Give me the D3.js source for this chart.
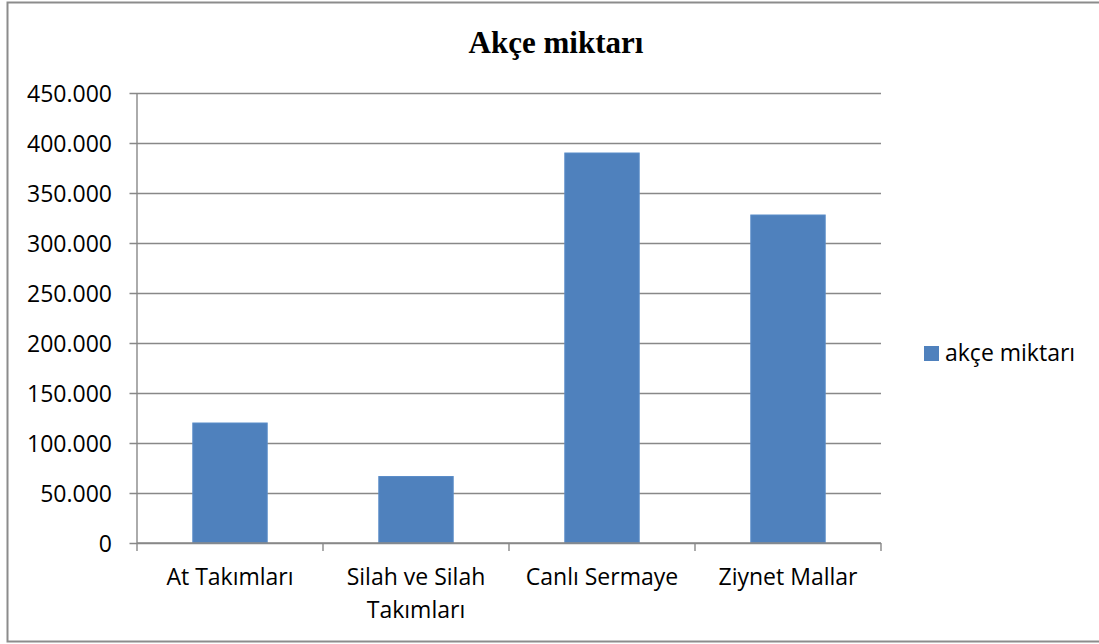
<!DOCTYPE html>
<html lang="tr">
<head>
    <meta charset="UTF-8">
    <title>Akçe miktarı</title>
    <script src="https://d3js.org/d3.v7.min.js"></script>
    <style>
        body { margin: 0; background: #fff; }
        svg { display: block; }
        .lbl { font-family: "Open Sans", sans-serif; font-size: 23px; fill: #000; }
    </style>
</head>
<body>
    <div id="chart"></div>

	<script>
        // data
        const categories = ["At Takımları", "Silah ve Silah Takımları", "Canlı Sermaye", "Ziynet Mallar"];
        const values = [120000, 66500, 390000, 328000];
        const yTicks = [0, 50000, 100000, 150000, 200000, 250000, 300000, 350000, 400000, 450000];
        const seriesName = "akçe miktarı";
        const chartTitle = "Akçe miktarı";

        const width = 1099;
        const height = 644;
        const margin = { top: 93, right: 218, bottom: 101, left: 137 };

        const locale = d3.formatLocale({ decimal: ",", thousands: ".", grouping: [3], currency: ["", ""] });
        const fmt = locale.format(",d");

        const svg = d3.select("#chart").append("svg")
            .attr("width", width)
            .attr("height", height);

        // outer frame
        svg.append("rect")
            .attr("x", 7.5)
            .attr("y", 2.5)
            .attr("width", 1110)
            .attr("height", 639)
            .attr("fill", "none")
            .attr("stroke", "#8c8c8c")
            .attr("stroke-width", 2);

        // title
        svg.append("text")
            .attr("x", 556)
            .attr("y", 53)
            .attr("text-anchor", "middle")
            .style("font-family", "'Liberation Serif', 'Times New Roman', serif")
            .style("font-weight", "bold")
            .style("font-size", "31px")
            .text(chartTitle);

        const x = d3.scaleBand()
            .domain(categories)
            .range([margin.left, width - margin.right])
            .paddingInner(0.6)
            .paddingOuter(0.3);

        const y = d3.scaleLinear()
            .domain([0, 450000])
            .range([height - margin.bottom, margin.top]);

        // gridlines + y axis
        const yAxis = svg.append("g")
            .attr("transform", "translate(" + margin.left + ",0)")
            .call(d3.axisLeft(y)
                .tickValues(yTicks)
                .tickFormat(fmt)
                .tickSize(-(width - margin.right - margin.left))
                .tickPadding(25));
        yAxis.select(".domain").remove();
        yAxis.selectAll("line")
            .attr("x1", -7.5)
            .attr("stroke", "#888")
            .attr("stroke-width", 1.4);
        yAxis.selectAll("text")
            .attr("class", "lbl")
            .attr("x", -25)
            .attr("dy", "0.36em");

        svg.append("line")
            .attr("x1", margin.left).attr("x2", margin.left)
            .attr("y1", margin.top).attr("y2", height - margin.bottom)
            .attr("stroke", "#888")
            .attr("stroke-width", 1.4);

        // bars
        svg.selectAll("rect.bar")
            .data(categories)
            .enter()
            .append("rect")
            .attr("class", "bar")
            .attr("x", d => x(d))
            .attr("y", (d, i) => y(values[i]))
            .attr("width", x.bandwidth())
            .attr("height", (d, i) => y(0) - y(values[i]))
            .attr("fill", "#4f81bd")
            .attr("stroke", "#5b8dc9")
            .attr("stroke-width", 1);

        // category axis
        const step = x.step();
        const bounds = d3.range(categories.length + 1).map(i => margin.left + i * step);
        const xa = svg.append("g");
        xa.append("line")
            .attr("x1", margin.left).attr("x2", width - margin.right)
            .attr("y1", y(0)).attr("y2", y(0))
            .attr("stroke", "#888").attr("stroke-width", 1.4);
        xa.selectAll("line.tick")
            .data(bounds)
            .enter()
            .append("line")
            .attr("class", "tick")
            .attr("x1", d => d).attr("x2", d => d)
            .attr("y1", y(0)).attr("y2", y(0) + 8)
            .attr("stroke", "#888").attr("stroke-width", 1.4);

        // labels, wrapped to fit the slot
        categories.forEach(c => {
            const t = xa.append("text")
                .attr("class", "lbl")
                .attr("text-anchor", "middle")
                .attr("x", x(c) + x.bandwidth() / 2)
                .attr("y", 585);
            const words = c.split(" ");
            let line = [];
            let lineNo = 0;
            let tspan = t.append("tspan").attr("x", x(c) + x.bandwidth() / 2).attr("dy", 0);
            words.forEach(w => {
                line.push(w);
                tspan.text(line.join(" "));
                if (tspan.node().getComputedTextLength() > step - 14 && line.length > 1) {
                    line.pop();
                    tspan.text(line.join(" "));
                    line = [w];
                    lineNo++;
                    tspan = t.append("tspan")
                        .attr("x", x(c) + x.bandwidth() / 2)
                        .attr("dy", 33)
                        .text(w);
                }
            });
        });

        // legend
        const lg = svg.append("g").attr("transform", "translate(924,346)");
        lg.append("rect")
            .attr("width", 15)
            .attr("height", 15)
            .attr("fill", "#4f81bd");
        lg.append("text")
            .attr("class", "lbl")
            .attr("x", 21)
            .attr("y", 15)
            .text(seriesName);
	</script>
</body>
</html>
